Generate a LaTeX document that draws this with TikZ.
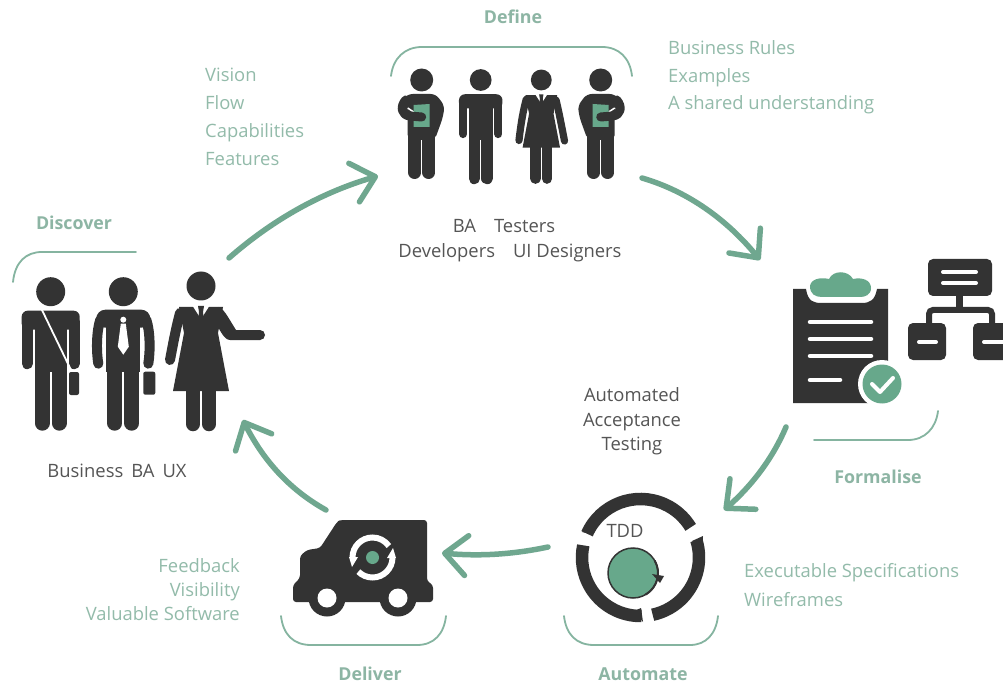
\documentclass[tikz,border=0pt]{standalone}
\usepackage{fontspec}
\setmainfont{Open Sans}
\usetikzlibrary{arrows.meta,bending}
\definecolor{ink}{HTML}{333333}
\definecolor{flowgreen}{HTML}{6FA78F}
\definecolor{fillgreen}{HTML}{67A88B}
\definecolor{softgreen}{HTML}{93BBAA}
\definecolor{headgreen}{HTML}{8DB5A4}
\definecolor{bodytext}{HTML}{555555}
\tikzset{
  flow/.style={draw=flowgreen,line width=5.5pt,line cap=round,-{Straight Barb[length=22pt,width=40pt,line width=5.5pt,round]}},
  bracket/.style={draw=flowgreen!85!white,line width=1.8pt,line cap=round},
  stagehead/.style={font=\fontsize{17.8}{20}\selectfont\bfseries,text=headgreen,inner sep=0pt,text height=14pt,text depth=2pt},
  softline/.style={font=\fontsize{18.4}{20}\selectfont,text=softgreen,inner sep=0pt,text height=14pt,text depth=2pt},
  darkline/.style={font=\fontsize{18.4}{20}\selectfont,text=bodytext,inner sep=0pt,text height=14pt,text depth=2pt},
  cutline/.style={draw=white,line width=3pt,line cap=round}
}
\newcommand{\legs}[2]{% foot y, scale
  \draw[ink,line width=15*#2,line cap=round] (-8.5,70) -- (-8.5,#1-7.5);
  \draw[ink,line width=15*#2,line cap=round] (8.5,70) -- (8.5,#1-7.5);
}
\newcommand{\plainman}[4]{% x y scale foot
\begin{scope}[shift={(#1,#2)},scale=#3]
  \fill[ink] (0,0) circle (14.5);
  \legs{#4}{#3}
  \fill[ink] (-16,25) rectangle (16,80);
  \fill[ink,rounded corners=6] (-29,38) -- (-29,19) -- (29,19) -- (29,38) -- cycle;
  \draw[ink,line width=11*#3,line cap=round] (-23.5,30) -- (-23.5,72);
  \draw[ink,line width=11*#3,line cap=round] (23.5,30) -- (23.5,72);
\end{scope}}
\newcommand{\woman}[7]{% x y scale hem halfhem armend foot
\begin{scope}[shift={(#1,#2)},scale=#3]
  \fill[ink] (0,0) circle (14.5);
  \draw[ink,line width=14.5*#3,line cap=round] (-8,#4-2) -- (-8,#7-7);
  \draw[ink,line width=14.5*#3,line cap=round] (8,#4-2) -- (8,#7-7);
  \fill[ink] (-22,21) -- (22,21) -- (17,47) -- (#5,#4) -- (-#5,#4) -- (-17,47) -- cycle;
  \draw[ink,line width=10*#3,line cap=round] (-21,27) .. controls (-25,42) and (-28,58) .. (-31,#6);
  \fill[white] (-9,19) -- (0,33) -- (9,19) -- cycle;
  \fill[ink] (-3,20) -- (3,20) -- (2,26) -- (3,36) -- (-3,36) -- (-2,26) -- cycle;
\end{scope}}
\newcommand{\readerman}[3]{% x y xscale
\begin{scope}[shift={(#1,#2)},xscale=#3]
  \fill[ink] (0,0) circle (11.5);
  \draw[ink,line width=13pt,line cap=round] (-7,45) -- (-7,92.5);
  \draw[ink,line width=13pt,line cap=round] (7,45) -- (7,92.5);
  \fill[ink,rounded corners=5] (-14,60) -- (-14,26) -- (-21,22) -- (-14,14) -- (14,14) -- (23,26) -- (21,38) -- (13,60) -- cycle;
  \draw[white,line width=1.5pt] (-14,28) -- (-8,32);
  \fill[fillgreen] (-8,25) -- (8,24) -- (8,47) -- (-8,47) -- cycle;
  \draw[ink,line width=9pt,line cap=round,line join=round] (-16,20) .. controls (-22,27) and (-20,35) .. (-12,36) -- (0,37);
\end{scope}}
\begin{document}
\begin{tikzpicture}[x=1pt,y=-1pt]
\useasboundingbox[fill=white] (0,0) rectangle (1003,684);
% connector ends
\coordinate (discoverOut) at (229,258);
\coordinate (defineIn) at (378,176);
\coordinate (defineOut) at (642,178);
\coordinate (formalIn) at (760,260);
\coordinate (formalOut) at (786,427);
\coordinate (autoIn) at (724,510);
\coordinate (autoOut) at (548,547);
\coordinate (deliverIn) at (442,553);
\coordinate (deliverOut) at (326,510);
\coordinate (discoverIn) at (243,420);
\draw[flow] (discoverOut) .. controls (270,222) and (320,192) .. (defineIn);
\draw[flow] (defineOut) .. controls (690,192) and (730,222) .. (formalIn);
\draw[flow] (formalOut) .. controls (772,460) and (750,488) .. (autoIn);
\draw[flow] (autoOut) .. controls (515,554) and (480,557) .. (deliverIn);
\draw[flow] (deliverOut) .. controls (290,490) and (262,460) .. (discoverIn);
% brackets
\draw[bracket] (13,282) .. controls (15,262) and (26,252) .. (42,252) -- (136,252);
\draw[bracket] (391,76) .. controls (393,58) and (405,47) .. (422,47) -- (602,47) .. controls (619,47) and (630,58) .. (632,76);
\draw[bracket] (938,411) .. controls (936,428) and (925,440) .. (908,440) -- (814,440);
\draw[bracket] (564,616) .. controls (566,634) and (576,645) .. (594,645) -- (690,645) .. controls (706,645) and (716,634) .. (718,616);
\draw[bracket] (281,616) .. controls (283,634) and (293,645) .. (311,645) -- (417,645) .. controls (434,645) and (444,634) .. (446,616);
% Discover people
\plainman{50.7}{291.7}{1}{139}
\draw[white,line width=1.8pt] (41.5,309) -- (70,368);
\fill[ink,rounded corners=2] (69,372) rectangle (79,395);
\begin{scope}[shift={(123.3,291.7)}]
  \fill[ink] (0,0) circle (14.5);
  \legs{139}{1}
  \fill[ink] (-17,25) rectangle (17,80);
  \fill[ink,rounded corners=9] (-27,36) -- (-27,18) -- (27,18) -- (27,36) -- cycle;
  \draw[ink,line width=10pt,line cap=round] (-23,28) .. controls (-27,40) and (-27,60) .. (-25,72);
  \draw[ink,line width=10pt,line cap=round] (23,28) .. controls (27,40) and (27,60) .. (25,72);
  \fill[white] (0,28) circle (3);
  \fill[white] (-2.5,32) -- (2.5,32) -- (5.5,55) -- (0,63) -- (-5.5,55) -- cycle;
  \fill[ink,rounded corners=2] (20,80) rectangle (32,103);
\end{scope}
\woman{201}{286}{1}{105}{28}{74}{145}
\fill[ink] (218,307) .. controls (224,309) and (226,314) .. (236,330) -- (260,330) -- (260,340) -- (230,340) .. controls (224,340) and (220,330) .. (214,320) -- cycle;
\fill[ink] (260,335) circle (5);
% Define people
\readerman{421.7}{80}{1}
\plainman{480.7}{80}{0.75}{139}
\woman{541.3}{80}{0.72}{94}{26}{84}{144}
\draw[ink,line width=7.2pt,line cap=round] (556,100) .. controls (559,112) and (562,128) .. (564.5,141);
\readerman{600.7}{80}{-1}
% Formalise icons
\fill[ink] (793,289) -- (806,289) .. controls (808,302) and (814,303) .. (822,303) -- (862,303) .. controls (870,303) and (875,300) .. (877,289) -- (888,289) -- (888,403) -- (793,403) -- cycle;
\fill[fillgreen] (810,286) .. controls (811,279) and (820,277) .. (829,279) .. controls (833,270) and (848,270) .. (853,279) .. controls (862,277) and (871,280) .. (871,288) .. controls (871,295) and (865,297) .. (860,297) -- (822,297) .. controls (815,297) and (810,294) .. (810,286) -- cycle;
\foreach \ly in {322,339,356} \draw[cutline,line width=4.5pt] (810,\ly) -- (871,\ly);
\draw[cutline,line width=4.5pt] (810,380) -- (840,380);
\fill[white] (882,384) circle (24);
\fill[fillgreen] (882,384) circle (19.5);
\draw[white,line width=4pt,line cap=round,line join=round] (872,384) -- (880,392) -- (893,378);
\fill[ink,rounded corners=5] (928,259) rectangle (992,296);
\draw[cutline,line width=4pt] (943,272) -- (976,272);
\draw[cutline,line width=4pt] (943,283) -- (976,283);
\draw[ink,line width=6pt,rounded corners=4] (929,325) -- (929,310) -- (992,310) -- (992,325);
\fill[ink] (955.5,296) rectangle (962.5,310);
\fill[ink,rounded corners=5] (908,323) rectangle (946,360);
\fill[ink,rounded corners=5] (973,323) rectangle (1010,360);
\draw[cutline,line width=4pt] (919,342) -- (936,342);
\draw[cutline,line width=4pt] (984,342) -- (1003,342);
% TDD ring
\draw[ink,line width=12.5pt] (640.5,557.5) ++(-156:58.5) arc[start angle=-156,end angle=-31,radius=58.5];
\draw[ink,line width=12.5pt] (640.5,557.5) ++(-17:58.5) arc[start angle=-17,end angle=78,radius=58.5];
\draw[ink,line width=12.5pt] (640.5,557.5) ++(89:58.5) arc[start angle=89,end angle=192,radius=58.5];
\fill[ink] (582,532) -- (591,534) -- (596,521) -- cycle;
\fill[ink] (703,536) -- (692,541) -- (702,552) -- cycle;
\fill[ink] (643,622) -- (641,608) -- (634,611) -- cycle;
\fill[fillgreen,draw=ink,line width=1.5pt] (633,573) circle (25);
\draw[ink,line width=2pt] (633,573) ++(-30:25) arc[start angle=-30,end angle=60,radius=25];
\fill[ink] (652,574) -- (664,576) -- (660,583) -- cycle;
% Truck
\fill[ink,rounded corners=3] (340,520) -- (427,520) -- (427,581) -- (433,585) -- (433,602) -- (293,602) -- (293,585) -- (300,578) -- (300,556) -- (307,550) -- (320,548) -- (337,522) -- cycle;
\fill[ink] (327,598) circle (18.5);
\fill[ink] (398,598) circle (18.5);
\fill[white] (327,598) circle (9.5);
\fill[white] (398,598) circle (9.5);
\draw[white,line width=6pt] (372.5,557.5) ++(180:20) arc[start angle=180,end angle=325,radius=20];
\draw[white,line width=6pt] (372.5,557.5) ++(0:20) arc[start angle=0,end angle=135,radius=20];
\fill[white] (349,557) -- (358,557) -- (352,567) -- cycle;
\fill[white] (396,558) -- (387,558) -- (393,548) -- cycle;
\fill[fillgreen] (372.5,557.5) circle (6.5);
% Texts
\node[stagehead] (defineLabel) at (513,18) {Define};
\node[stagehead] (discoverLabel) at (74,224) {Discover};
\node[stagehead] (formaliseLabel) at (878,477) {Formalise};
\node[stagehead] (automateLabel) at (643,674) {Automate};
\node[stagehead] (deliverLabel) at (370,674) {Deliver};
\node[softline,anchor=west] (r1) at (668,49) {Business Rules};
\node[softline,anchor=west] (r2) at (668,77) {Examples};
\node[softline,anchor=west] (r3) at (668,104) {A shared understanding};
\node[softline,anchor=west] (v1) at (205,76) {Vision};
\node[softline,anchor=west] (v2) at (205,104) {Flow};
\node[softline,anchor=west] (v3) at (205,132) {Capabilities};
\node[softline,anchor=west] (v4) at (205,160) {Features};
\node[softline,anchor=west] (e1) at (744,571) {Executable Specifications};
\node[softline,anchor=west] (e2) at (744,600) {Wireframes};
\node[softline,anchor=east] (f1) at (240,566) {Feedback};
\node[softline,anchor=east] (f2) at (240,590) {Visibility};
\node[softline,anchor=east] (f3) at (240,614) {Valuable Software};
\node[darkline] (d1) at (504,227) {BA\hspace{18pt}Testers};
\node[darkline] (d2) at (510,252) {Developers\hspace{18pt}UI Designers};
\node[darkline] (d3) at (117,471) {Business\hspace{8pt}BA\hspace{8pt}UX};
\node[darkline] (t1) at (632,395) {Automated};
\node[darkline] (t2) at (632,420) {Acceptance};
\node[darkline] (t3) at (632,444) {Testing};
\node[darkline] (tdd) at (625,531) {TDD};
\end{tikzpicture}
\end{document}
